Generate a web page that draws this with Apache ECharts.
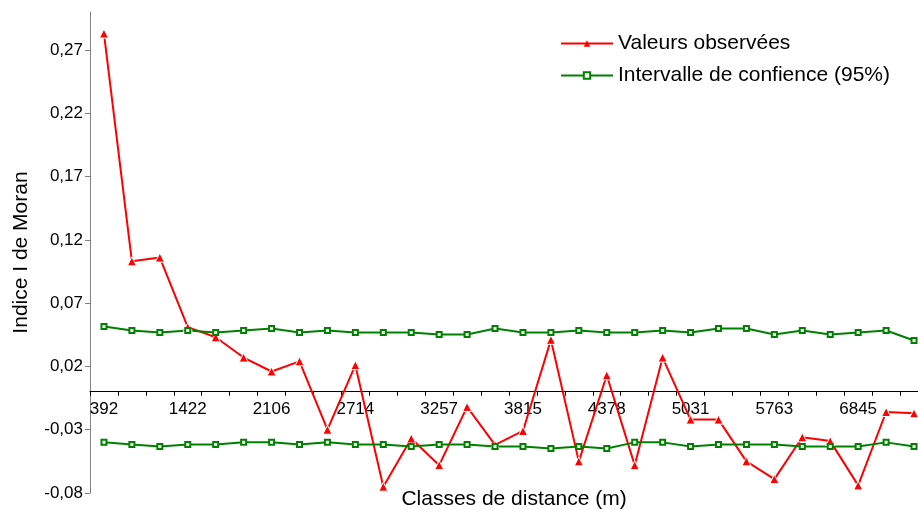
<!DOCTYPE html>
<html>
<head>
<meta charset="utf-8">
<script src="https://cdn.jsdelivr.net/npm/echarts@6/dist/echarts.min.js"></script>
<style>html,body{margin:0;padding:0;background:#fff}#c{width:918px;height:510px}</style>
</head>
<body>
<div id="c"></div>
<script>
// Distance classes (only every third label is printed on the chart)
var categories = ['392','','','1422','','','2106','','','2714','','','3257','','','3815','','','4378','','','5031','','','5763','','','6845','',''];
// Observed Moran's I values
var observed = [0.283,0.103,0.106,0.051,0.043,0.027,0.016,0.024,-0.030,0.021,
                -0.075,-0.037,-0.058,-0.012,-0.042,-0.031,0.041,-0.055,0.013,-0.058,
                0.027,-0.022,-0.022,-0.055,-0.069,-0.036,-0.039,-0.074,-0.016,-0.017];
// 95% confidence interval, upper bound
var ciUpper = [0.0516,0.0484,0.0468,0.0484,0.0468,0.0484,0.0500,0.0468,0.0484,0.0468,
               0.0468,0.0468,0.0452,0.0452,0.0500,0.0468,0.0468,0.0484,0.0468,0.0468,
               0.0484,0.0468,0.0500,0.0500,0.0452,0.0484,0.0452,0.0468,0.0484,0.0405];
// 95% confidence interval, lower bound
var ciLower = [-0.0400,-0.0416,-0.0432,-0.0416,-0.0416,-0.0400,-0.0400,-0.0416,-0.0400,-0.0416,
               -0.0416,-0.0432,-0.0416,-0.0416,-0.0432,-0.0432,-0.0448,-0.0432,-0.0448,-0.0400,
               -0.0400,-0.0432,-0.0416,-0.0416,-0.0416,-0.0432,-0.0432,-0.0432,-0.0400,-0.0432];
// Y tick values
var yTicks = [-0.08,-0.03,0.02,0.07,0.12,0.17,0.22,0.27];
var yMin = -0.08, yMax = 0.30;

var FONT = '"Liberation Sans", Arial, sans-serif';
var W = 918, H = 510, gTop = 12, gBottom = 17;
var gridH = H - gTop - gBottom;
// the category axis crosses the value axis at 0
var xOffset = -gridH * (0 - yMin) / (yMax - yMin);

var chart = echarts.init(document.getElementById('c'), null, {renderer:'canvas'});
var fmt = function(v){ return v.toFixed(2).replace('.', ','); };
chart.setOption({
  animation: false,
  backgroundColor: '#fff',
  textStyle: {fontFamily: FONT},
  grid: {left: 90, right: -10, top: gTop, bottom: gBottom, containLabel: false, outerBoundsMode: 'none'},
  legend: {
    orient: 'vertical', left: 560, top: 33, padding: 0,
    itemWidth: 52, itemHeight: 8, itemGap: 11,
    textStyle: {fontFamily: FONT, fontSize: 21, color: '#000'},
    data: [
      {name: 'Valeurs observées', itemStyle: {borderWidth: 0}},
      {name: 'Intervalle de confience (95%)'}
    ]
  },
  xAxis: {
    type: 'category', data: categories, boundaryGap: true,
    offset: xOffset,
    axisLine: {onZero: false, lineStyle: {color: '#000', width: 1}},
    axisTick: {show: true, interval: 0, length: 4, lineStyle: {color: '#000'}},
    axisLabel: {interval: 0, margin: 9, fontSize: 17, color: '#000', fontFamily: FONT},
    splitLine: {show: false},
    name: 'Classes de distance (m)', nameLocation: 'middle', nameGap: 97,
    nameTextStyle: {fontSize: 21, color: '#000', fontFamily: FONT, padding: [0,0,0,10]}
  },
  yAxis: {
    type: 'value', min: yMin, max: yMax, interval: 0.05,
    axisLine: {show: true, lineStyle: {color: '#808080', width: 1}},
    axisTick: {show: true, length: 5, customValues: yTicks, lineStyle: {color: '#808080'}},
    axisLabel: {customValues: yTicks, formatter: fmt, fontSize: 17, color: '#000', margin: 7, fontFamily: FONT},
    splitLine: {show: false},
    name: 'Indice I de Moran', nameLocation: 'middle', nameGap: 58, nameRotate: 90,
    nameTextStyle: {fontSize: 21, color: '#000', fontFamily: FONT}
  },
  series: [
    {
      name: 'Valeurs observées', type: 'line', data: observed,
      symbol: 'triangle', symbolSize: 9,
      lineStyle: {color: '#ff0000', width: 2},
      itemStyle: {color: '#ff0000', borderColor: '#fff', borderWidth: 1}
    },
    {
      name: 'Intervalle de confience (95%)', type: 'line', data: ciUpper,
      symbol: 'emptyRect', symbolSize: 5,
      lineStyle: {color: '#008000', width: 2},
      itemStyle: {color: '#008000', borderWidth: 1.5}
    },
    {
      name: 'Intervalle de confience (95%)', type: 'line', data: ciLower,
      symbol: 'emptyRect', symbolSize: 5,
      lineStyle: {color: '#008000', width: 2},
      itemStyle: {color: '#008000', borderWidth: 1.5}
    }
  ]
});
</script>
</body>
</html>
